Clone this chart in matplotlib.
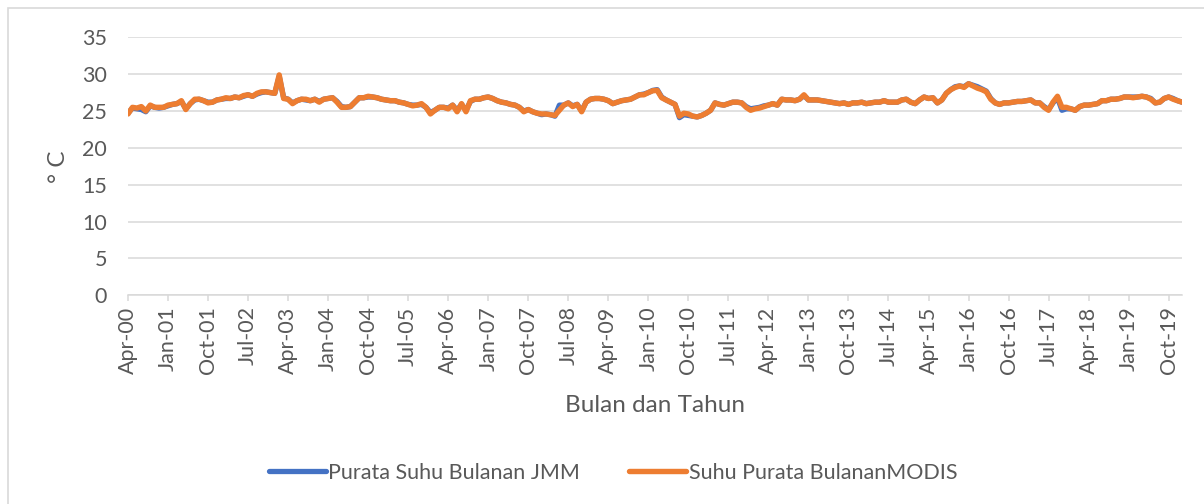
import numpy as np
import pandas as pd
import matplotlib
matplotlib.use('Agg')
import matplotlib.pyplot as plt
from matplotlib.patches import Rectangle

# monthly mean temperature, Apr 2000 .. Jan 2020
start_month = '2000-04'
modis = [
    24.6, 25.5, 25.4, 25.6, 25.0, 25.8, 25.5, 25.5, 25.5, 25.8,
    25.9, 26.0, 26.4, 25.2, 26.0, 26.6, 26.6, 26.4, 26.1, 26.2,
    26.5, 26.6, 26.8, 26.7, 26.9, 26.8, 27.1, 27.2, 27.0, 27.4,
    27.6, 27.6, 27.5, 27.4, 29.9, 26.7, 26.6, 26.0, 26.4, 26.6,
    26.6, 26.4, 26.6, 26.2, 26.6, 26.7, 26.8, 26.2, 25.5, 25.5,
    25.6, 26.2, 26.8, 26.8, 27.0, 26.9, 26.8, 26.6, 26.5, 26.4,
    26.4, 26.2, 26.1, 25.9, 25.7, 25.8, 26.0, 25.5, 24.6, 25.1,
    25.5, 25.5, 25.3, 25.8, 24.9, 26.0, 24.9, 26.4, 26.6, 26.6,
    26.8, 26.9, 26.7, 26.4, 26.2, 26.1, 25.9, 25.8, 25.5, 24.9,
    25.2, 24.9, 24.7, 24.6, 24.6, 24.5, 24.4, 25.1, 25.8, 26.1,
    25.6, 25.9, 24.9, 26.2, 26.6, 26.7, 26.7, 26.6, 26.4, 26.0,
    26.2, 26.4, 26.5, 26.6, 26.9, 27.2, 27.2, 27.5, 27.75, 27.8,
    26.8, 26.5, 26.2, 25.9, 24.3, 24.7, 24.6, 24.3, 24.2, 24.4,
    24.7, 25.1, 26.1, 25.9, 25.8, 26.0, 26.2, 26.2, 26.1, 25.5,
    25.1, 25.3, 25.4, 25.6, 25.8, 26.0, 25.8, 26.6, 26.5, 26.5,
    26.4, 26.6, 27.2, 26.5, 26.5, 26.5, 26.4, 26.3, 26.2, 26.1,
    26.0, 26.1, 25.9, 26.1, 26.1, 26.2, 26.0, 26.1, 26.2, 26.2,
    26.4, 26.2, 26.2, 26.2, 26.5, 26.6, 26.2, 26.0, 26.5, 26.9,
    26.7, 26.8, 26.1, 26.5, 27.4, 27.9, 28.2, 28.4, 28.2, 28.7,
    28.4, 28.1, 27.9, 27.6, 26.6, 26.1, 25.9, 26.1, 26.1, 26.2,
    26.3, 26.3, 26.4, 26.5, 26.1, 26.1, 25.5, 25.1, 26.2, 27.0,
    25.5, 25.5, 25.3, 25.1, 25.6, 25.8, 25.8, 25.9, 26.0, 26.4,
    26.4, 26.6, 26.6, 26.7, 26.9, 26.9, 26.8, 26.9, 27.0, 26.9,
    26.6, 26.1, 26.2, 26.7, 26.9, 26.6, 26.4, 26.2,
]
jmm = [
    24.7, 25.4, 25.3, 25.2, 24.9, 25.7, 25.5, 25.4, 25.5, 25.7,
    25.9, 26.0, 26.3, 25.3, 26.0, 26.5, 26.6, 26.4, 26.2, 26.2,
    26.5, 26.6, 26.7, 26.7, 26.9, 26.8, 27.0, 27.2, 27.0, 27.3,
    27.5, 27.6, 27.5, 27.4, 29.7, 26.8, 26.6, 26.1, 26.4, 26.6,
    26.5, 26.4, 26.6, 26.3, 26.6, 26.7, 26.8, 26.3, 25.6, 25.5,
    25.6, 26.2, 26.8, 26.8, 26.9, 26.9, 26.8, 26.6, 26.5, 26.4,
    26.4, 26.2, 26.1, 25.9, 25.8, 25.8, 25.9, 25.5, 24.8, 25.1,
    25.5, 25.5, 25.4, 25.8, 25.1, 25.9, 25.1, 26.3, 26.6, 26.6,
    26.8, 26.9, 26.7, 26.4, 26.2, 26.1, 25.9, 25.8, 25.5, 25.0,
    25.2, 24.9, 24.7, 24.5, 24.6, 24.5, 24.3, 25.8, 25.8, 26.1,
    25.7, 25.9, 25.0, 26.2, 26.6, 26.7, 26.7, 26.6, 26.4, 26.0,
    26.2, 26.4, 26.5, 26.6, 26.9, 27.2, 27.3, 27.5, 27.8, 27.9,
    26.9, 26.5, 26.2, 25.9, 24.1, 24.5, 24.4, 24.3, 24.2, 24.4,
    24.7, 25.1, 26.1, 25.9, 25.8, 26.0, 26.2, 26.2, 26.1, 25.6,
    25.3, 25.4, 25.5, 25.7, 25.8, 26.0, 25.8, 26.6, 26.5, 26.5,
    26.4, 26.6, 27.1, 26.5, 26.5, 26.5, 26.4, 26.3, 26.2, 26.1,
    26.0, 26.1, 25.9, 26.1, 26.1, 26.2, 26.0, 26.1, 26.2, 26.2,
    26.4, 26.2, 26.2, 26.2, 26.5, 26.6, 26.2, 26.0, 26.5, 26.9,
    26.7, 26.8, 26.1, 26.5, 27.4, 27.9, 28.3, 28.4, 28.3, 28.7,
    28.5, 28.3, 28.0, 27.7, 26.7, 26.1, 25.9, 26.1, 26.1, 26.2,
    26.3, 26.3, 26.4, 26.5, 26.1, 26.1, 25.6, 25.2, 26.1, 26.8,
    25.1, 25.3, 25.3, 25.1, 25.6, 25.8, 25.8, 25.9, 26.0, 26.4,
    26.4, 26.6, 26.6, 26.7, 26.9, 26.9, 26.9, 26.9, 27.0, 26.9,
    26.7, 26.1, 26.2, 26.7, 26.9, 26.7, 26.4, 26.2,
]
series_names = ['Purata Suhu Bulanan JMM', 'Suhu Purata BulananMODIS']
series_colors = ['#4472C4', '#ED7D31']
tick_step = 9
y_ticks = [0, 5, 10, 15, 20, 25, 30, 35]

months = pd.date_range(start_month, periods=len(modis), freq='MS')
x = np.arange(len(modis))
tick_pos = x[::tick_step]
tick_labels = [d.strftime('%b-%y') for d in months[::tick_step]]

plt.rcParams['font.family'] = ['Lato', 'DejaVu Sans']
txt = '#595959'
grid_c = '#D9D9D9'

fig = plt.figure(figsize=(12.04, 5.04), dpi=100)
ax = fig.add_axes([128 / 1204, 1 - 295.3 / 504, 1054 / 1204, 258 / 504])

ax.plot(x, jmm, color=series_colors[0], lw=3.8, label=series_names[0],
        solid_capstyle='round', solid_joinstyle='round', zorder=3)
ax.plot(x, modis, color=series_colors[1], lw=3.9, label=series_names[1],
        solid_capstyle='round', solid_joinstyle='round', zorder=4)

ax.set_xlim(0, len(modis) - 1)
ax.set_ylim(0, 35)
ax.set_yticks(y_ticks)
ax.set_xticks(tick_pos)
ax.set_xticklabels(tick_labels, rotation=90)
ax.grid(axis='y', color=grid_c, lw=1.1)
ax.set_axisbelow(True)
for s in ['top', 'right', 'left']:
    ax.spines[s].set_visible(False)
ax.spines['bottom'].set_color(grid_c)
ax.spines['bottom'].set_linewidth(1.1)
ax.tick_params(axis='y', length=0, pad=15, labelsize=15.5, labelcolor=txt)
ax.tick_params(axis='x', length=4, width=1.1, color=grid_c, pad=4,
               labelsize=15.5, labelcolor=txt)

ax.text(-0.066, 0.5, '° C', transform=ax.transAxes, rotation=90,
        ha='center', va='center', fontsize=17.5, color=txt)
ax.set_xlabel('Bulan dan Tahun', fontsize=17.5, color=txt, labelpad=15)

ax.legend(loc='center', bbox_to_anchor=(613 / 1204, 1 - 473 / 504),
          bbox_transform=fig.transFigure, ncol=2, frameon=False,
          fontsize=15.5, labelcolor=txt, handlelength=2.65, handletextpad=0.1,
          columnspacing=2.3)

# chart area border
fig.patches.append(Rectangle((7.5 / 1204, -0.1), 1.2, 1.1 - 8 / 504,
                             transform=fig.transFigure, fill=False,
                             edgecolor=grid_c, lw=1.2))

fig.savefig('out.png', dpi=100)
